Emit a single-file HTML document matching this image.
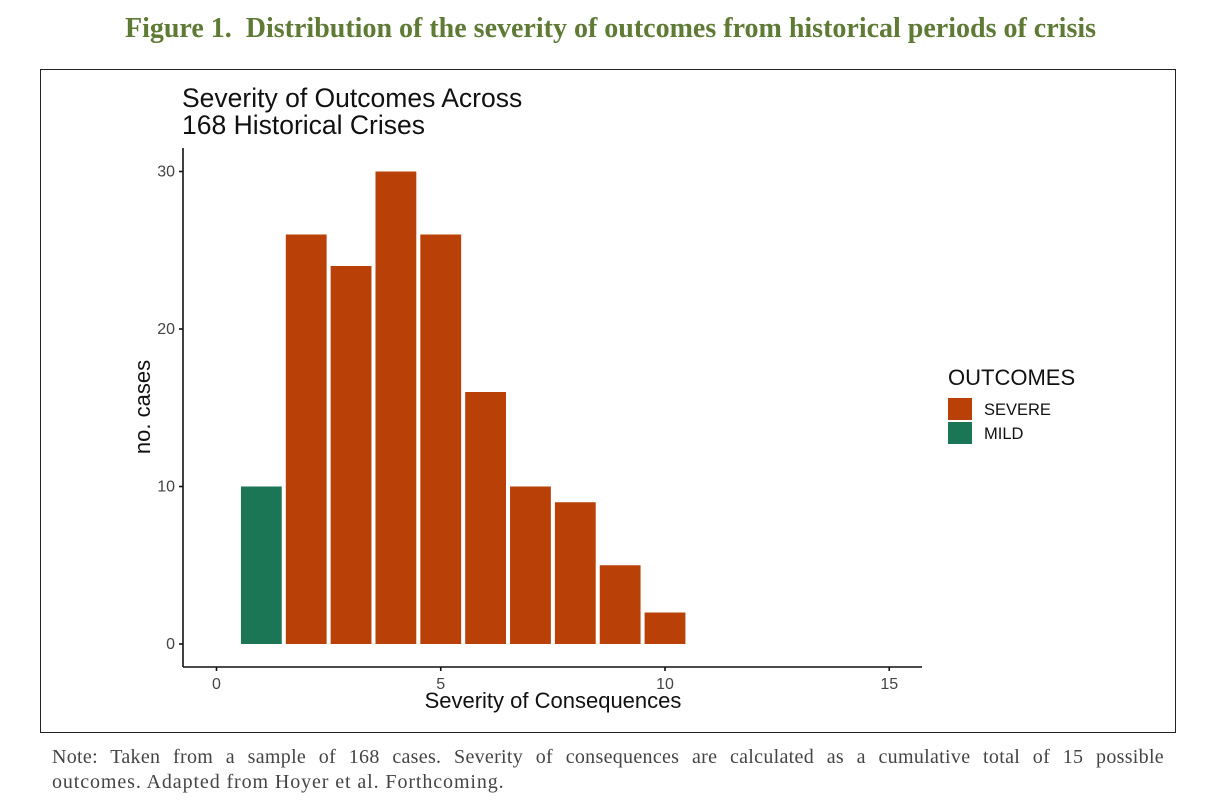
<!DOCTYPE html>
<html><head><meta charset="utf-8">
<style>
body{margin:0;background:#fff;width:1221px;height:807px;position:relative;overflow:hidden;font-family:"Liberation Sans",sans-serif;}
#fig-title{position:absolute;left:0;width:1221px;top:13px;text-align:center;font-family:"Liberation Serif",serif;font-weight:bold;font-size:28px;color:#5e7a35;}
#frame{position:absolute;left:40px;top:69px;width:1136px;height:664px;border:1px solid #222;box-sizing:border-box;}
#note{position:absolute;left:52px;top:745px;width:1112px;font-family:"Liberation Serif",serif;font-size:20px;letter-spacing:0.9px;color:#444;line-height:25px;white-space:nowrap;}
#note .l1{display:block;text-align:justify;text-align-last:justify;white-space:normal;letter-spacing:0.3px;}
</style></head><body>
<div id="fig-title">Figure 1.&nbsp; Distribution of the severity of outcomes from historical periods of crisis</div>
<div id="frame"></div>
<svg id="chart" width="1221" height="807" style="position:absolute;left:0;top:0">
<text x="182" y="107" font-size="26.5" fill="#111">Severity of Outcomes Across</text>
<text x="182" y="134" font-size="26.5" fill="#111">168 Historical Crises</text>
<g id="bars"></g>
<g id="axes"></g>
<text x="553" y="708" font-size="22" text-anchor="middle" fill="#111">Severity of Consequences</text>
<text transform="translate(150,407) rotate(-90)" font-size="22" text-anchor="middle" fill="#111">no. cases</text>
<text x="948" y="385" font-size="22" fill="#111">OUTCOMES</text>
<rect x="948" y="398" width="24" height="22" fill="#b94006"/>
<text x="984" y="415" font-size="16.5" fill="#111">SEVERE</text>
<rect x="948" y="422" width="24" height="22" fill="#1a7654"/>
<text x="984" y="439" font-size="16.5" fill="#111">MILD</text>
</svg>
<div id="note"><span class="l1">Note: Taken from a sample of 168 cases. Severity of consequences are calculated as a cumulative total of 15 possible</span>outcomes. Adapted from Hoyer et al. Forthcoming.</div>
<script>
const severity = [1,2,3,4,5,6,7,8,9,10];
const counts = [10,26,24,30,26,16,10,9,5,2];
const outcome = ["MILD","SEVERE","SEVERE","SEVERE","SEVERE","SEVERE","SEVERE","SEVERE","SEVERE","SEVERE"];
const xTicks = [0,5,10,15];
const yTicks = [0,10,20,30];
const NS="http://www.w3.org/2000/svg";
function xs(v){return 216.5+v*44.85;}
function ys(v){return 644-v*15.75;}
const colors={SEVERE:"#b94006",MILD:"#1a7654"};
const bars=document.getElementById('bars');
severity.forEach((s,i)=>{
  const r=document.createElementNS(NS,'rect');
  const w=44.85*0.91;
  r.setAttribute('x',xs(s)-w/2);r.setAttribute('width',w);
  r.setAttribute('y',ys(counts[i]));r.setAttribute('height',ys(0)-ys(counts[i]));
  r.setAttribute('fill',colors[outcome[i]]);
  
  
  bars.appendChild(r);
});
const ax=document.getElementById('axes');
function line(x1,y1,x2,y2,name){const l=document.createElementNS(NS,'line');l.setAttribute('x1',x1);l.setAttribute('y1',y1);l.setAttribute('x2',x2);l.setAttribute('y2',y2);l.setAttribute('stroke','#111');l.setAttribute('stroke-width','1.6');


ax.appendChild(l);}
function text(x,y,t,anchor,name){const e=document.createElementNS(NS,'text');e.setAttribute('x',x);e.setAttribute('y',y);e.setAttribute('font-size','16');e.setAttribute('fill','#444');e.setAttribute('text-anchor',anchor);e.textContent=t;


ax.appendChild(e);}
line(183,148,183,667,'y-axis-line');
line(183,667,922,667,'x-axis-line');
xTicks.forEach(t=>{line(xs(t),667,xs(t),671,'x-tick');text(xs(t),689,String(t),'middle','x-tick-label');});
yTicks.forEach(t=>{line(179,ys(t),183,ys(t),'y-tick');text(175,ys(t)+5,String(t),'end','y-tick-label');});
</script>
</body></html>
